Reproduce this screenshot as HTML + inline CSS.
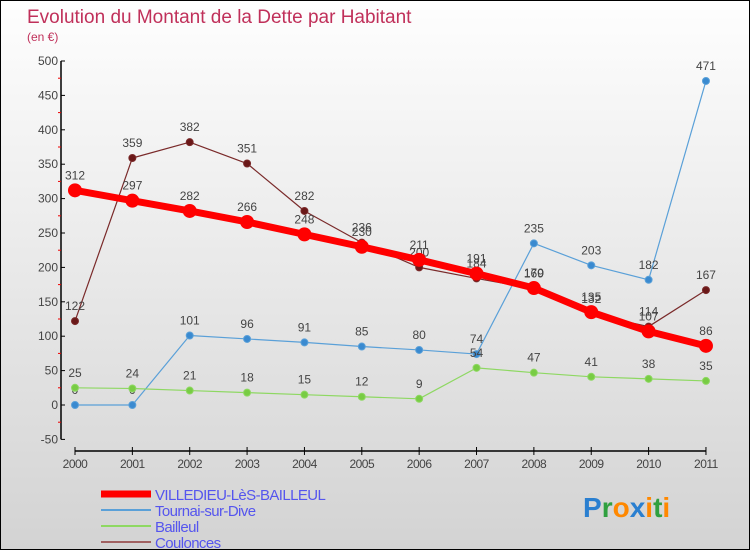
<!DOCTYPE html>
<html><head><meta charset="utf-8"><style>
html,body{margin:0;padding:0}
body{width:750px;height:550px;overflow:hidden;font-family:"Liberation Sans",sans-serif}
#wrap{position:relative;width:748px;height:548px;border:1px solid #000;background:linear-gradient(#fefefe,#d3d3d3)}
svg{position:absolute;left:0;top:0}
</style></head><body>
<div id="wrap">
<svg id="chart" width="748" height="548"></svg>
</div>
<script>
const years=["2000","2001","2002","2003","2004","2005","2006","2007","2008","2009","2010","2011"];
const villedieu=[312,297,282,266,248,230,211,191,170,135,107,86];
const tournai=[0,0,101,96,91,85,80,74,235,203,182,471];
const bailleul=[25,24,21,18,15,12,9,54,47,41,38,35];
const coulonces=[122,359,382,351,282,236,200,184,169,132,114,167];
const yTicks=[-50,0,50,100,150,200,250,300,350,400,450,500];
const seriesNames=["VILLEDIEU-LèS-BAILLEUL","Tournai-sur-Dive","Bailleul","Coulonces"];

const NS="http://www.w3.org/2000/svg";
const svg=document.getElementById('chart');
function mk(t,a,p){const e=document.createElementNS(NS,t);for(const k in a)e.setAttribute(k,a[k]);(p||svg).appendChild(e);return e;}
const X=i=>74+i*57.36;
const Y=v=>404-v*0.688;
const axX=60;

// title
let t=mk('text',{x:26,y:22,fill:'#c0305a','font-size':19});t.textContent='Evolution du Montant de la Dette par Habitant';

t=mk('text',{x:26,y:40,fill:'#c0305a','font-size':12});t.textContent='(en €)';


// y axis
let ax=mk('line',{x1:axX,y1:Y(500),x2:axX,y2:Y(-50),stroke:'#000','stroke-width':1.5});

yTicks.forEach(v=>{
  mk('line',{x1:axX,y1:Y(v),x2:axX+4,y2:Y(v),stroke:'#000'});
  if(v<500) mk('line',{x1:axX-3,y1:Y(v+25),x2:axX,y2:Y(v+25),stroke:'#e00'});
  const l=mk('text',{x:axX-3,y:Y(v)+4,'text-anchor':'end','font-size':12,fill:'#444'});l.textContent=v;
  
});
// x axis
ax=mk('line',{x1:X(0),y1:450,x2:X(11),y2:450,stroke:'#000','stroke-width':1.5});

years.forEach((y,i)=>{
  mk('line',{x1:X(i),y1:446,x2:X(i),y2:454,stroke:'#000'});
  const l=mk('text',{x:X(i),y:467,'text-anchor':'middle','font-size':12,fill:'#444','letter-spacing':'-0.5'});l.textContent=y;
  
});

function series(vals,color,w,r,name,dot){
  const g=mk('g',{});
  
  mk('polyline',{points:vals.map((v,i)=>X(i)+','+Y(v)).join(' '),fill:'none',stroke:color,'stroke-width':w,'stroke-linejoin':'round'},g);
  vals.forEach((v,i)=>{
    const c=mk('circle',{cx:X(i),cy:Y(v),r:r,fill:dot,stroke:color,'stroke-width':1},g);
    
    const l=mk('text',{x:X(i),y:Y(v)-11,'text-anchor':'middle','font-size':12,fill:'#444'},g);l.textContent=v;
  });
}
series(tournai,'#5aa0d8',1.2,3.5,'series-tournai','#3a8ad0');
series(bailleul,'#8ed862',1.2,3.5,'series-bailleul','#78cc44');
series(coulonces,'#7a2a2a',1.2,3.5,'series-coulonces','#6a1818');
series(villedieu,'#ff0000',7,6.5,'series-villedieu','#ff0000');

// legend
const lc=[['#ff0000',7],['#5aa0d8',2],['#8ed862',2],['#a06060',2]];
seriesNames.forEach((n,i)=>{
  const y=493+i*16;
  const g=mk('g',{});
  mk('line',{x1:100,y1:y,x2:150,y2:y,stroke:lc[i][0],'stroke-width':lc[i][1]},g);
  const l=mk('text',{x:154,y:y+6,'font-size':15,fill:'#5555ee','letter-spacing':'-0.6'},g);l.textContent=n;
});
// logo
const logo=mk('text',{x:582,y:516,'font-size':28,'font-weight':'bold'});

[['P','#2a7fd0'],['r','#30a040'],['o','#ff8800'],['x','#2a7fd0'],['i','#ff8800'],['t','#30a040'],['i','#ff8800']].forEach(([c,col])=>{const s=mk('tspan',{fill:col},logo);s.textContent=c;});
</script>
</body></html>
